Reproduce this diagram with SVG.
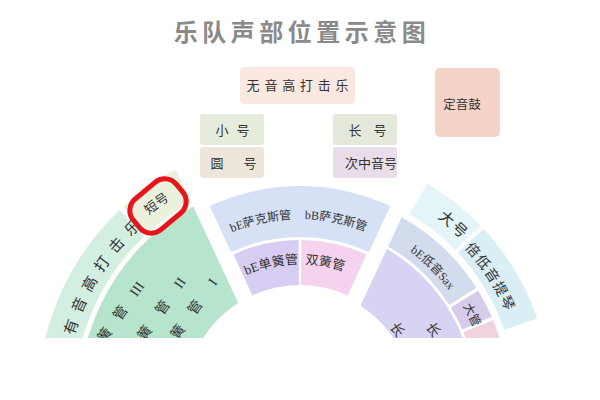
<svg xmlns="http://www.w3.org/2000/svg" width="600" height="400" viewBox="0 0 600 400">
<defs>
<clipPath id="cut"><rect x="0" y="0" width="600" height="338"/></clipPath>
<path id="a235" d="M65,400 A235,235 0 0 1 535,400"/>
<path id="a239" d="M61,400 A239,239 0 0 1 539,400"/>
<path id="a181" d="M119,400 A181,181 0 0 1 481,400"/>
<path id="a136" d="M164,400 A136,136 0 0 1 436,400"/>
<path id="a228" d="M72,400 A228,228 0 0 1 528,400"/>
<path id="a224" d="M76,400 A224,224 0 0 1 524,400"/>
<path id="a185" d="M115,400 A185,185 0 0 1 485,400"/>
<path id="a188" d="M112,400 A188,188 0 0 1 488,400"/>
</defs>
<style>
.t{font-family:"Liberation Serif","Noto Sans CJK SC",serif;fill:#333;}
.box text{font-size:13px;text-anchor:middle}
.sec text{text-anchor:middle}
.c12{font-size:12px}
.c13{font-size:13px}
.c14{font-size:14px}
.c15{font-size:15px}
.g{text-anchor:middle;dominant-baseline:central;font-size:14px}
</style>
<rect width="600" height="400" fill="#ffffff"/>
<text id="title" x="302" y="41" font-family="Noto Sans CJK SC, sans-serif" font-weight="bold" font-size="24" letter-spacing="4.5" fill="#8a8a8a" text-anchor="middle">乐队声部位置示意图</text>

<g class="box t">
<g id="n-wuyingao"><rect x="240" y="67" width="115" height="37" rx="4" fill="#fbe8e0"/><text x="300" y="89.5" letter-spacing="4.8">无音高打击乐</text></g>
<g id="n-xiaohao"><rect x="200" y="114" width="64" height="31" rx="3" fill="#e6ecdc"/><text x="236.5" y="134.5" letter-spacing="8">小号</text></g>
<g id="n-yuanhao"><rect x="200" y="147" width="64" height="31" rx="3" fill="#eee6da"/><text x="243.5" y="167.5" letter-spacing="20">圆号</text></g>
<g id="n-changhao"><rect x="333" y="114" width="64" height="31" rx="3" fill="#e4e9dc"/><text x="373.5" y="134.5" letter-spacing="12">长号</text></g>
<g id="n-cizhongyin"><rect x="333" y="147" width="64" height="31" rx="3" fill="#e8dde9"/><text x="371" y="167.5">次中音号</text></g>
<g id="n-dingyingu"><rect x="435" y="68" width="65" height="69" rx="5" fill="#f6d3c8"/><text x="462" y="109" style="font-size:12.5px">定音鼓</text></g>
</g>

<g clip-path="url(#cut)">
<g id="left" class="sec t">
<path d="M42,445.5 A262,262 0 0 1 119.6,209.9 L144.4,236.1 A226,226 0 0 0 77.4,439.2 Z" fill="#d3efe2"/>
<text class="c15" letter-spacing="8"><textPath href="#a235" startOffset="134">有音高打击乐</textPath></text>
<g id="n-duanhao">
<path d="M123,206.8 A262,262 0 0 1 175.9,169.2 L191.1,201.9 A226,226 0 0 0 147.3,233.4 Z" fill="#ecf1de"/>
<text class="c13"><textPath href="#a239" startOffset="224.4">短号</textPath></text>
</g>
<g id="n-danhuang">
<path d="M82.4,438.4 A221,221 0 0 1 193.2,206.5 L238.2,303 A115,115 0 0 0 186.7,420 Z" fill="#b6e4cd"/>
<g transform="translate(178,332) rotate(-55)"><text class="g" x="0" y="0">簧</text><text class="g" x="30" y="0">管</text><text class="g" x="61" y="0">I</text></g>
<g transform="translate(145,333) rotate(-55)"><text class="g" x="0" y="0">簧</text><text class="g" x="31" y="0">管</text><text class="g" x="61" y="0">II</text></g>
<g transform="translate(105,335) rotate(-55)"><text class="g" x="0" y="0">簧</text><text class="g" x="27" y="0">管</text><text class="g" x="56" y="0">III</text></g>
</g>
</g>

<g id="middle" class="sec t">
<g id="n-sax"><path d="M209.6,206.1 A214,214 0 0 1 390.4,206.1 L368.9,252.3 A163,163 0 0 0 231.1,252.3 Z" fill="#d6e1f6"/>
<text class="c12"><textPath href="#a181" startOffset="245">bE萨克斯管</textPath></text>
<text class="c12"><textPath href="#a181" startOffset="320">bB萨克斯管</textPath></text></g>
<g id="n-ebclar"><path d="M233.6,254.4 A160,160 0 0 1 298.6,240 L299,285 A115,115 0 0 0 252.3,295.4 Z" fill="#d7ccf1"/>
<text class="c13"><textPath href="#a136" startOffset="185.1">bE单簧管</textPath></text></g>
<g id="n-oboe"><path d="M301.4,240 A160,160 0 0 1 366.4,254.4 L347.7,295.4 A115,115 0 0 0 301,285 Z" fill="#f5d3ef"/>
<text class="c13"><textPath href="#a136" startOffset="238.3">双簧管</textPath></text></g>
</g>

<g id="right" class="sec t">
<g id="n-flute"><path d="M386.9,249.1 A174,174 0 0 1 471.4,430.2 L410.3,419.4 A112,112 0 0 0 360.5,305.7 Z" fill="#d6d3f3"/>
<text class="g" transform="translate(397,330) rotate(55)">长</text>
<text class="g" transform="translate(433,330) rotate(55)">长</text></g>
<g id="n-bassax"><path d="M401.7,217.3 A209,209 0 0 1 476.3,287.7 L449.3,304.9 A177,177 0 0 0 388.1,246.4 Z" fill="#d3dcec"/>
<text class="c12"><textPath href="#a185" startOffset="436">bE低音Sax</textPath></text></g>
<g id="n-daguan"><path d="M478.2,290.8 A209,209 0 0 1 491.7,316.7 L462.3,329.4 A177,177 0 0 0 450.9,307.5 Z" fill="#d6cbe8"/>
<text class="c12"><textPath href="#a188" startOffset="504">大管</textPath></text></g>
<g id="n-pinkcell"><path d="M493.1,320 A209,209 0 0 1 505.8,436.3 L474.3,430.7 A177,177 0 0 0 463.5,332.3 Z" fill="#efd3de"/></g>
<g id="n-tuba"><path d="M427.4,183.7 A251,251 0 0 1 480.5,225.6 L455.4,249.9 A216,216 0 0 0 409.6,213.9 Z" fill="#e3f5f8"/>
<text class="c15" letter-spacing="2"><textPath href="#a228" startOffset="522.3">大号</textPath></text></g>
<g id="n-contrabass"><path d="M483.6,228.8 A251,251 0 0 1 537.3,318.3 L504.2,329.7 A216,216 0 0 0 458,252.7 Z" fill="#d9eff5"/>
<text class="c14" letter-spacing="1.5"><textPath href="#a224" startOffset="575">倍低音提琴</textPath></text></g>
</g>
</g>

<rect id="highlight" x="-28" y="-20" width="56" height="40" rx="15" transform="translate(158,206) rotate(-40)" fill="none" stroke="#e8141c" stroke-width="5"/>
</svg>
